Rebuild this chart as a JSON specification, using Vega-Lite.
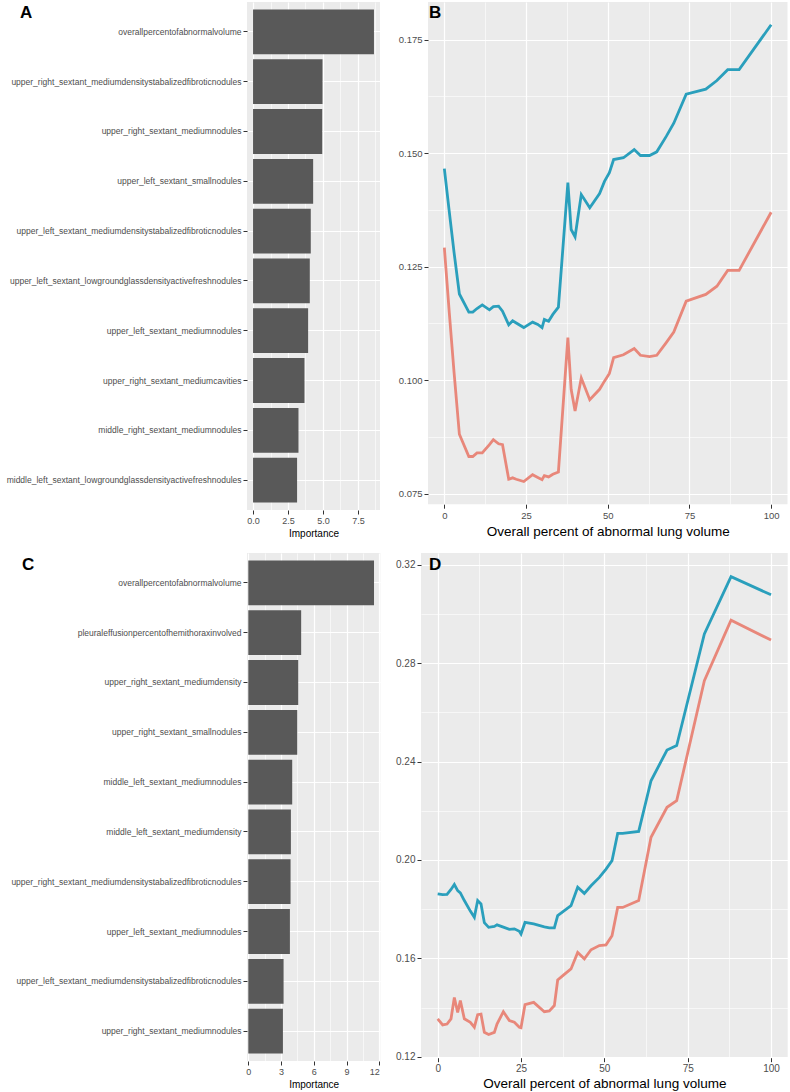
{
  "$schema": "https://vega.github.io/schema/vega-lite/v6.json",
  "padding": {"left": 0, "top": 2, "right": 0, "bottom": 0},
  "background": "white",
  "columns": 2,
  "align": "none",
  "spacing": {"row": 14, "column": 8},
  "config": {
    "view": {"fill": "#EBEBEB", "stroke": null},
    "font": "Liberation Sans",
    "axis": {
      "domain": false,
      "tickColor": "#333333",
      "tickSize": 4,
      "tickWidth": 1,
      "labelColor": "#4D4D4D",
      "labelFont": "Liberation Sans",
      "titleFont": "Liberation Sans",
      "titleColor": "#000000",
      "titleFontWeight": "normal",
      "gridColor": "#FFFFFF",
      "gridWidth": 1.2,
      "gridOpacity": 1,
      "labelPadding": 2
    },
    "title": {
      "font": "Liberation Sans",
      "fontSize": 17,
      "fontWeight": "bold",
      "color": "#000000",
      "anchor": "start",
      "frame": "group",
      "orient": "top",
      "align": "left",
      "baseline": "alphabetic"
    }
  },
  "datasets": {
    "imp_a": [
      {"feature": "overallpercentofabnormalvolume", "importance": 8.65},
      {"feature": "upper_right_sextant_mediumdensitystabalizedfibroticnodules", "importance": 4.97},
      {"feature": "upper_right_sextant_mediumnodules", "importance": 4.95},
      {"feature": "upper_left_sextant_smallnodules", "importance": 4.30},
      {"feature": "upper_left_sextant_mediumdensitystabalizedfibroticnodules", "importance": 4.13},
      {"feature": "upper_left_sextant_lowgroundglassdensityactivefreshnodules", "importance": 4.06},
      {"feature": "upper_left_sextant_mediumnodules", "importance": 3.94},
      {"feature": "upper_right_sextant_mediumcavities", "importance": 3.68},
      {"feature": "middle_right_sextant_mediumnodules", "importance": 3.25},
      {"feature": "middle_left_sextant_lowgroundglassdensityactivefreshnodules", "importance": 3.15}
    ],
    "imp_c": [
      {"feature": "overallpercentofabnormalvolume", "importance": 11.51},
      {"feature": "pleuraleffusionpercentofhemithoraxinvolved", "importance": 4.84},
      {"feature": "upper_right_sextant_mediumdensity", "importance": 4.57},
      {"feature": "upper_right_sextant_smallnodules", "importance": 4.48},
      {"feature": "middle_left_sextant_mediumnodules", "importance": 4.02},
      {"feature": "middle_left_sextant_mediumdensity", "importance": 3.90},
      {"feature": "upper_right_sextant_mediumdensitystabalizedfibroticnodules", "importance": 3.87},
      {"feature": "upper_left_sextant_mediumnodules", "importance": 3.81},
      {"feature": "upper_left_sextant_mediumdensitystabalizedfibroticnodules", "importance": 3.23},
      {"feature": "upper_right_sextant_mediumnodules", "importance": 3.17}
    ],
    "pd_b": [
      {"x": 0, "y": 0.1466, "series": "high"}, {"x": 1.5, "y": 0.1372, "series": "high"}, {"x": 3, "y": 0.1280, "series": "high"},
      {"x": 4.6, "y": 0.1190, "series": "high"}, {"x": 7.5, "y": 0.1150, "series": "high"}, {"x": 8.7, "y": 0.1150, "series": "high"},
      {"x": 10, "y": 0.1158, "series": "high"}, {"x": 11.6, "y": 0.1166, "series": "high"}, {"x": 13.8, "y": 0.1155, "series": "high"},
      {"x": 15, "y": 0.1162, "series": "high"}, {"x": 16.6, "y": 0.1163, "series": "high"}, {"x": 17.8, "y": 0.1152, "series": "high"},
      {"x": 19.7, "y": 0.1122, "series": "high"}, {"x": 20.9, "y": 0.1131, "series": "high"}, {"x": 22, "y": 0.1126, "series": "high"},
      {"x": 24.3, "y": 0.1116, "series": "high"}, {"x": 27, "y": 0.1128, "series": "high"}, {"x": 28.6, "y": 0.1123, "series": "high"},
      {"x": 29.9, "y": 0.1116, "series": "high"}, {"x": 30.6, "y": 0.1134, "series": "high"}, {"x": 31.9, "y": 0.1130, "series": "high"},
      {"x": 33.2, "y": 0.1145, "series": "high"}, {"x": 34.9, "y": 0.1161, "series": "high"}, {"x": 37.8, "y": 0.1435, "series": "high"},
      {"x": 38.8, "y": 0.1332, "series": "high"}, {"x": 40, "y": 0.1316, "series": "high"}, {"x": 41.9, "y": 0.1409, "series": "high"},
      {"x": 44.5, "y": 0.1380, "series": "high"}, {"x": 47.5, "y": 0.1411, "series": "high"}, {"x": 49, "y": 0.1438, "series": "high"},
      {"x": 50.5, "y": 0.1457, "series": "high"}, {"x": 51.8, "y": 0.1486, "series": "high"}, {"x": 54.8, "y": 0.1490, "series": "high"},
      {"x": 58.1, "y": 0.1508, "series": "high"}, {"x": 60, "y": 0.1495, "series": "high"}, {"x": 62.8, "y": 0.1495, "series": "high"},
      {"x": 65, "y": 0.1503, "series": "high"}, {"x": 67.9, "y": 0.1537, "series": "high"}, {"x": 70.2, "y": 0.1566, "series": "high"},
      {"x": 74, "y": 0.1630, "series": "high"}, {"x": 80, "y": 0.1641, "series": "high"}, {"x": 83.4, "y": 0.1660, "series": "high"},
      {"x": 86.7, "y": 0.1684, "series": "high"}, {"x": 90.2, "y": 0.1684, "series": "high"}, {"x": 100, "y": 0.1783, "series": "high"},
      {"x": 0, "y": 0.1292, "series": "low"}, {"x": 1.5, "y": 0.1150, "series": "low"}, {"x": 3, "y": 0.1015, "series": "low"},
      {"x": 4.6, "y": 0.0881, "series": "low"}, {"x": 7.5, "y": 0.0832, "series": "low"}, {"x": 8.7, "y": 0.0832, "series": "low"},
      {"x": 10, "y": 0.0840, "series": "low"}, {"x": 11.6, "y": 0.0840, "series": "low"}, {"x": 13.8, "y": 0.0858, "series": "low"},
      {"x": 15, "y": 0.0869, "series": "low"}, {"x": 16.6, "y": 0.0860, "series": "low"}, {"x": 17.8, "y": 0.0858, "series": "low"},
      {"x": 19.7, "y": 0.0782, "series": "low"}, {"x": 20.9, "y": 0.0785, "series": "low"}, {"x": 22, "y": 0.0782, "series": "low"},
      {"x": 24.3, "y": 0.0777, "series": "low"}, {"x": 27, "y": 0.0792, "series": "low"}, {"x": 28.6, "y": 0.0786, "series": "low"},
      {"x": 29.9, "y": 0.0781, "series": "low"}, {"x": 30.6, "y": 0.0790, "series": "low"}, {"x": 31.9, "y": 0.0787, "series": "low"},
      {"x": 33.2, "y": 0.0793, "series": "low"}, {"x": 34.9, "y": 0.0798, "series": "low"}, {"x": 37.8, "y": 0.1094, "series": "low"},
      {"x": 38.8, "y": 0.0980, "series": "low"}, {"x": 40, "y": 0.0932, "series": "low"}, {"x": 41.9, "y": 0.1005, "series": "low"},
      {"x": 44.5, "y": 0.0957, "series": "low"}, {"x": 47.5, "y": 0.0980, "series": "low"}, {"x": 49, "y": 0.0998, "series": "low"},
      {"x": 50.5, "y": 0.1015, "series": "low"}, {"x": 51.8, "y": 0.1050, "series": "low"}, {"x": 54.8, "y": 0.1056, "series": "low"},
      {"x": 58.1, "y": 0.1070, "series": "low"}, {"x": 60, "y": 0.1055, "series": "low"}, {"x": 62.8, "y": 0.1052, "series": "low"},
      {"x": 65, "y": 0.1055, "series": "low"}, {"x": 67.9, "y": 0.1083, "series": "low"}, {"x": 70.2, "y": 0.1106, "series": "low"},
      {"x": 74, "y": 0.1174, "series": "low"}, {"x": 80, "y": 0.1189, "series": "low"}, {"x": 83.4, "y": 0.1207, "series": "low"},
      {"x": 86.7, "y": 0.1242, "series": "low"}, {"x": 90.2, "y": 0.1242, "series": "low"}, {"x": 100, "y": 0.1370, "series": "low"}
    ],
    "pd_d": [
      {"x": 0, "y": 0.1862, "series": "high"}, {"x": 1.5, "y": 0.1859, "series": "high"}, {"x": 2.8, "y": 0.1860, "series": "high"},
      {"x": 4, "y": 0.1880, "series": "high"}, {"x": 5, "y": 0.1900, "series": "high"}, {"x": 6, "y": 0.1875, "series": "high"},
      {"x": 6.8, "y": 0.1866, "series": "high"}, {"x": 8, "y": 0.1835, "series": "high"}, {"x": 9.8, "y": 0.1792, "series": "high"},
      {"x": 11, "y": 0.1767, "series": "high"}, {"x": 12, "y": 0.1835, "series": "high"}, {"x": 13, "y": 0.1821, "series": "high"},
      {"x": 14, "y": 0.1745, "series": "high"}, {"x": 15.3, "y": 0.1726, "series": "high"}, {"x": 17, "y": 0.1730, "series": "high"},
      {"x": 17.8, "y": 0.1736, "series": "high"}, {"x": 19.7, "y": 0.1727, "series": "high"}, {"x": 21.5, "y": 0.1718, "series": "high"},
      {"x": 23, "y": 0.1720, "series": "high"}, {"x": 24.5, "y": 0.1710, "series": "high"}, {"x": 25, "y": 0.1699, "series": "high"},
      {"x": 26.2, "y": 0.1746, "series": "high"}, {"x": 28.8, "y": 0.1740, "series": "high"}, {"x": 32, "y": 0.1728, "series": "high"},
      {"x": 33.5, "y": 0.1724, "series": "high"}, {"x": 35, "y": 0.1724, "series": "high"}, {"x": 36, "y": 0.1774, "series": "high"},
      {"x": 38, "y": 0.1794, "series": "high"}, {"x": 40, "y": 0.1814, "series": "high"}, {"x": 42, "y": 0.1889, "series": "high"},
      {"x": 44, "y": 0.1864, "series": "high"}, {"x": 46, "y": 0.1895, "series": "high"}, {"x": 48.5, "y": 0.1929, "series": "high"},
      {"x": 50.5, "y": 0.1963, "series": "high"}, {"x": 52.3, "y": 0.1997, "series": "high"}, {"x": 54, "y": 0.2108, "series": "high"},
      {"x": 55.5, "y": 0.2108, "series": "high"}, {"x": 60.3, "y": 0.2116, "series": "high"}, {"x": 64, "y": 0.2322, "series": "high"},
      {"x": 68.8, "y": 0.2447, "series": "high"}, {"x": 71.7, "y": 0.2465, "series": "high"}, {"x": 80, "y": 0.2919, "series": "high"},
      {"x": 88, "y": 0.3152, "series": "high"}, {"x": 100, "y": 0.3078, "series": "high"},
      {"x": 0, "y": 0.1354, "series": "low"}, {"x": 1.5, "y": 0.1329, "series": "low"}, {"x": 2.8, "y": 0.1333, "series": "low"},
      {"x": 4, "y": 0.1354, "series": "low"}, {"x": 5, "y": 0.1441, "series": "low"}, {"x": 6, "y": 0.1380, "series": "low"},
      {"x": 6.8, "y": 0.1428, "series": "low"}, {"x": 8, "y": 0.1354, "series": "low"}, {"x": 9.8, "y": 0.1340, "series": "low"},
      {"x": 11, "y": 0.1320, "series": "low"}, {"x": 12, "y": 0.1371, "series": "low"}, {"x": 13, "y": 0.1373, "series": "low"},
      {"x": 14, "y": 0.1299, "series": "low"}, {"x": 15.3, "y": 0.1290, "series": "low"}, {"x": 17, "y": 0.1299, "series": "low"},
      {"x": 17.8, "y": 0.1333, "series": "low"}, {"x": 19.7, "y": 0.1383, "series": "low"}, {"x": 21.5, "y": 0.1347, "series": "low"},
      {"x": 23, "y": 0.1340, "series": "low"}, {"x": 24.5, "y": 0.1320, "series": "low"}, {"x": 25, "y": 0.1318, "series": "low"},
      {"x": 26.2, "y": 0.1412, "series": "low"}, {"x": 28.8, "y": 0.1421, "series": "low"}, {"x": 32, "y": 0.1383, "series": "low"},
      {"x": 33.5, "y": 0.1386, "series": "low"}, {"x": 35, "y": 0.1408, "series": "low"}, {"x": 36, "y": 0.1512, "series": "low"},
      {"x": 38, "y": 0.1535, "series": "low"}, {"x": 40, "y": 0.1557, "series": "low"}, {"x": 42, "y": 0.1624, "series": "low"},
      {"x": 44, "y": 0.1598, "series": "low"}, {"x": 46, "y": 0.1635, "series": "low"}, {"x": 48.5, "y": 0.1652, "series": "low"},
      {"x": 50.5, "y": 0.1655, "series": "low"}, {"x": 52.3, "y": 0.1692, "series": "low"}, {"x": 54, "y": 0.1807, "series": "low"},
      {"x": 55.5, "y": 0.1807, "series": "low"}, {"x": 60.3, "y": 0.1835, "series": "low"}, {"x": 64, "y": 0.2092, "series": "low"},
      {"x": 68.8, "y": 0.2214, "series": "low"}, {"x": 71.7, "y": 0.2241, "series": "low"}, {"x": 80, "y": 0.2729, "series": "low"},
      {"x": 88, "y": 0.2975, "series": "low"}, {"x": 100, "y": 0.2894, "series": "low"}
    ]
  },
  "concat": [
    {
      "width": 133,
      "height": 508,
      "title": {"text": "A", "offset": -20, "dx": -227},
      "data": {"name": "imp_a"},
      "layer": [
        {
          "mark": {"type": "bar", "color": "#595959"},
          "encoding": {
            "y": {"field": "feature", "type": "nominal", "sort": null,
                  "scale": {"paddingInner": 0.1, "paddingOuter": 0.15},
                  "axis": {"title": null, "labelFontSize": 8.5, "labelLimit": 300, "minExtent": 247, "maxExtent": 247, "grid": true, "bandPosition": 0.5}},
            "x": {"field": "importance", "type": "quantitative",
                  "scale": {"domain": [-0.4325, 9.0825], "nice": false},
                  "axis": {"title": "Importance", "values": [0, 2.5, 5, 7.5], "format": ".1f", "grid": true, "labelFontSize": 9, "titleFontSize": 10, "titlePadding": 3}}
          }
        },
        {
          "mark": {"type": "bar", "opacity": 0},
          "encoding": {
            "y": {"field": "feature", "type": "nominal", "sort": null},
            "x": {"field": "importance", "type": "quantitative",
                  "axis": {"orient": "top", "values": [1.25, 3.75, 6.25, 8.75], "labels": false, "ticks": false, "title": null, "grid": true, "gridWidth": 0.6, "minExtent": 0, "maxExtent": 0}}
          }
        }
      ],
      "resolve": {"axis": {"x": "independent"}}
    },
    {
      "width": 359.5,
      "height": 502.2,
      "title": {"text": "B", "offset": -19.5, "dx": 1},
      "data": {"name": "pd_b"},
      "layer": [
        {
          "mark": {"type": "line", "strokeWidth": 2.8},
          "encoding": {
            "x": {"field": "x", "type": "quantitative",
                  "scale": {"domain": [-5, 105], "nice": false, "zero": false},
                  "axis": {"title": "Overall percent of abnormal lung volume", "values": [0, 25, 50, 75, 100], "grid": true, "labelFontSize": 9.5, "titleFontSize": 13.5, "titlePadding": 5}},
            "y": {"field": "y", "type": "quantitative",
                  "scale": {"domain": [0.0727, 0.1833], "nice": false, "zero": false},
                  "axis": {"title": null, "values": [0.075, 0.1, 0.125, 0.15, 0.175], "format": ".3f", "grid": true, "labelFontSize": 9.5, "minExtent": 38.3, "maxExtent": 38.3}},
            "color": {"field": "series", "type": "nominal",
                      "scale": {"domain": ["high", "low"], "range": ["#2A9FBC", "#E8877A"]},
                      "legend": null}
          }
        },
        {
          "mark": {"type": "line", "opacity": 0},
          "encoding": {
            "x": {"field": "x", "type": "quantitative",
                  "axis": {"orient": "top", "values": [12.5, 37.5, 62.5, 87.5], "labels": false, "ticks": false, "title": null, "grid": true, "gridWidth": 0.6, "minExtent": 0, "maxExtent": 0}},
            "y": {"field": "y", "type": "quantitative",
                  "axis": {"orient": "right", "values": [0.0875, 0.1125, 0.1375, 0.1625], "labels": false, "ticks": false, "title": null, "grid": true, "gridWidth": 0.6, "minExtent": 0, "maxExtent": 0}}
          }
        }
      ],
      "resolve": {"axis": {"x": "independent", "y": "independent"}}
    },
    {
      "width": 133.3,
      "height": 508,
      "title": {"text": "C", "offset": -20.5, "dx": -225},
      "data": {"name": "imp_c"},
      "layer": [
        {
          "mark": {"type": "bar", "color": "#595959"},
          "encoding": {
            "y": {"field": "feature", "type": "nominal", "sort": null,
                  "scale": {"paddingInner": 0.1, "paddingOuter": 0.15},
                  "axis": {"title": null, "labelFontSize": 8.5, "labelLimit": 300, "minExtent": 247, "maxExtent": 247, "grid": true, "bandPosition": 0.5}},
            "x": {"field": "importance", "type": "quantitative",
                  "scale": {"domain": [-0.119, 12.0855], "nice": false},
                  "axis": {"title": "Importance", "values": [0, 3, 6, 9, 12], "format": "d", "grid": true, "labelFontSize": 9, "titleFontSize": 10, "titlePadding": 3}}
          }
        },
        {
          "mark": {"type": "bar", "opacity": 0},
          "encoding": {
            "y": {"field": "feature", "type": "nominal", "sort": null},
            "x": {"field": "importance", "type": "quantitative",
                  "axis": {"orient": "top", "values": [1.5, 4.5, 7.5, 10.5], "labels": false, "ticks": false, "title": null, "grid": true, "gridWidth": 0.6, "minExtent": 0, "maxExtent": 0}}
          }
        }
      ],
      "resolve": {"axis": {"x": "independent"}}
    },
    {
      "width": 366.7,
      "height": 504.7,
      "title": {"text": "D", "offset": -21, "dx": 8},
      "data": {"name": "pd_d"},
      "layer": [
        {
          "mark": {"type": "line", "strokeWidth": 2.8},
          "encoding": {
            "x": {"field": "x", "type": "quantitative",
                  "scale": {"domain": [-5, 105], "nice": false, "zero": false},
                  "axis": {"title": "Overall percent of abnormal lung volume", "values": [0, 25, 50, 75, 100], "grid": true, "labelFontSize": 10, "titleFontSize": 13.5, "titlePadding": 3}},
            "y": {"field": "y", "type": "quantitative",
                  "scale": {"domain": [0.1196, 0.3248], "nice": false, "zero": false},
                  "axis": {"title": null, "values": [0.12, 0.16, 0.2, 0.24, 0.28, 0.32], "format": ".2f", "grid": true, "labelFontSize": 10, "minExtent": 31.4, "maxExtent": 31.4}},
            "color": {"field": "series", "type": "nominal",
                      "scale": {"domain": ["high", "low"], "range": ["#2A9FBC", "#E8877A"]},
                      "legend": null}
          }
        },
        {
          "mark": {"type": "line", "opacity": 0},
          "encoding": {
            "x": {"field": "x", "type": "quantitative",
                  "axis": {"orient": "top", "values": [12.5, 37.5, 62.5, 87.5], "labels": false, "ticks": false, "title": null, "grid": true, "gridWidth": 0.6, "minExtent": 0, "maxExtent": 0}},
            "y": {"field": "y", "type": "quantitative",
                  "axis": {"orient": "right", "values": [0.14, 0.18, 0.22, 0.26, 0.30], "labels": false, "ticks": false, "title": null, "grid": true, "gridWidth": 0.6, "minExtent": 0, "maxExtent": 0}}
          }
        }
      ],
      "resolve": {"axis": {"x": "independent", "y": "independent"}}
    }
  ]
}
